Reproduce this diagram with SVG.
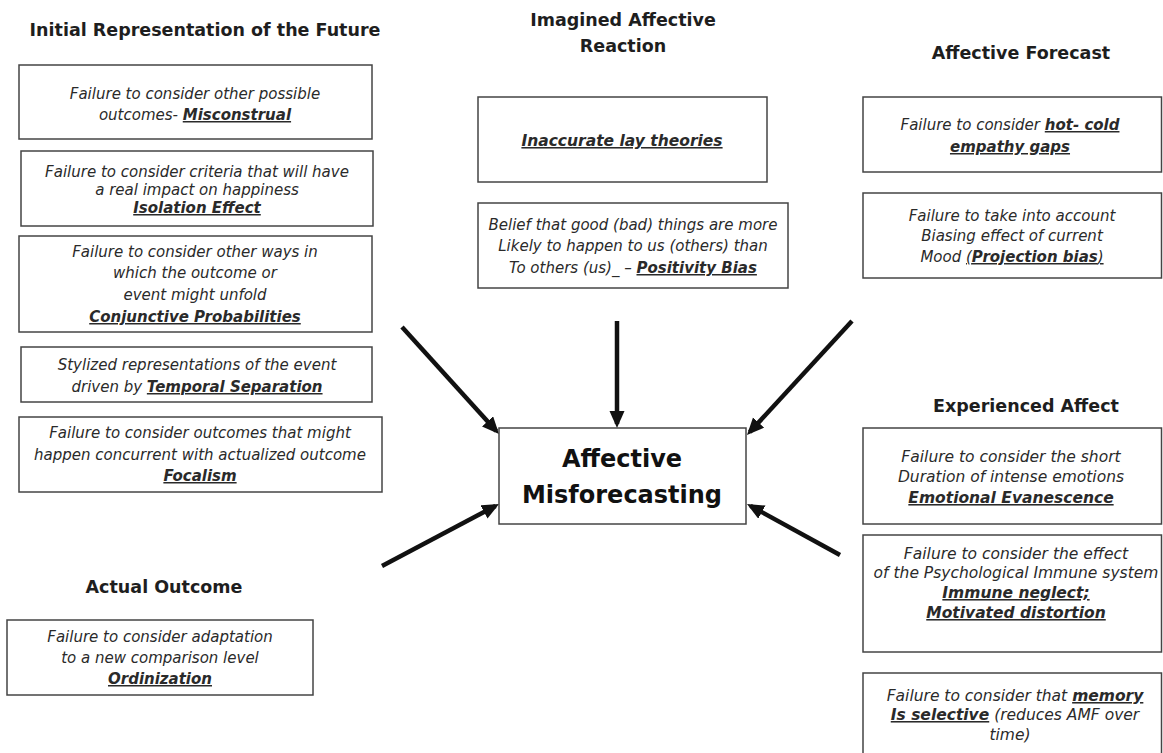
<svg xmlns="http://www.w3.org/2000/svg" width="1163" height="753" viewBox="0 0 1163 753">
<style>
  .bg { fill: #ffffff; }
  .box { fill: #ffffff; stroke: #444444; stroke-width: 1.5; }
  .title { font-family: "DejaVu Sans", "Liberation Sans", sans-serif; font-weight: bold; font-size: 17.5px; fill: #1e1e1e; text-anchor: middle; }
  .center { font-family: "DejaVu Sans", "Liberation Sans", sans-serif; font-weight: bold; font-size: 24px; fill: #111111; text-anchor: middle; }
  .t { font-family: "DejaVu Sans", "Liberation Sans", sans-serif; font-style: italic; font-size: 15px; fill: #2a2a2a; text-anchor: middle; }
  .t2 { font-family: "DejaVu Sans", "Liberation Sans", sans-serif; font-style: italic; font-size: 15.5px; fill: #2a2a2a; text-anchor: middle; }
  .k { font-weight: bold; text-decoration: underline; }
  .b { font-weight: bold; }
  .u { text-decoration: underline; }
  .arrow { stroke: #111111; stroke-width: 4.5; fill: none; marker-end: url(#ah); }
</style>
<defs>
  <marker id="ah" markerUnits="userSpaceOnUse" markerWidth="18" markerHeight="16" refX="13" refY="7.5" orient="auto">
    <path d="M0,0 L17,7.5 L0,15 z" fill="#111111"/>
  </marker>
</defs>
<rect class="bg" x="0" y="0" width="1163" height="753"/>

<g id="connectors">
  <line class="arrow" x1="402" y1="327" x2="496.3" y2="431"/>
  <line class="arrow" x1="617" y1="321" x2="617" y2="424"/>
  <line class="arrow" x1="852" y1="321" x2="749.7" y2="432.1"/>
  <line class="arrow" x1="382" y1="566" x2="495.5" y2="505.9"/>
  <line class="arrow" x1="840" y1="555" x2="750.5" y2="505.9"/>
</g>

<g id="title-initial">
  <text class="title" x="205" y="36">Initial Representation of the Future</text>
</g>
<g id="title-imagined">
  <text class="title" x="623" y="26">Imagined Affective</text>
  <text class="title" x="623" y="52">Reaction</text>
</g>
<g id="title-forecast">
  <text class="title" x="1021" y="59">Affective Forecast</text>
</g>
<g id="title-experienced">
  <text class="title" x="1026" y="412">Experienced Affect</text>
</g>
<g id="title-actual">
  <text class="title" x="164" y="593">Actual Outcome</text>
</g>

<g id="center">
  <rect class="box" x="499" y="428" width="247" height="96"/>
  <text class="center" x="622" y="467">Affective</text>
  <text class="center" x="622" y="503">Misforecasting</text>
</g>

<g id="misconstrual">
  <rect class="box" x="19" y="65" width="353" height="74"/>
  <text class="t" x="195" y="99">Failure to consider other possible</text>
  <text class="t" x="195" y="120">outcomes- <tspan class="k">Misconstrual</tspan></text>
</g>
<g id="isolation">
  <rect class="box" x="21" y="151" width="352" height="75"/>
  <text class="t" x="197" y="177">Failure to consider criteria that will have</text>
  <text class="t" x="197" y="195">a real impact on happiness</text>
  <text class="t" x="197" y="213"><tspan class="k">Isolation Effect</tspan></text>
</g>
<g id="conjunctive">
  <rect class="box" x="19" y="236" width="353" height="96"/>
  <text class="t" x="195" y="257">Failure to consider other ways in</text>
  <text class="t" x="195" y="278">which the outcome or</text>
  <text class="t" x="195" y="300">event might unfold</text>
  <text class="t" x="195" y="322"><tspan class="k">Conjunctive Probabilities</tspan></text>
</g>
<g id="temporal">
  <rect class="box" x="21" y="347" width="351" height="55"/>
  <text class="t" x="197" y="370">Stylized representations of the event</text>
  <text class="t" x="197" y="392">driven by <tspan class="k">Temporal Separation</tspan></text>
</g>
<g id="focalism">
  <rect class="box" x="19" y="417" width="363" height="75"/>
  <text class="t" x="200" y="438">Failure to consider outcomes that might</text>
  <text class="t" x="200" y="460">happen concurrent with actualized outcome</text>
  <text class="t" x="200" y="481"><tspan class="k">Focalism</tspan></text>
</g>
<g id="ordinization">
  <rect class="box" x="7" y="620" width="306" height="75"/>
  <text class="t" x="160" y="642">Failure to consider adaptation</text>
  <text class="t" x="160" y="663">to a new comparison level</text>
  <text class="t" x="160" y="684"><tspan class="k">Ordinization</tspan></text>
</g>

<g id="lay-theories">
  <rect class="box" x="478" y="97" width="289" height="85"/>
  <text class="t" x="622" y="146" style="font-size:15.5px"><tspan class="k">Inaccurate lay theories</tspan></text>
</g>
<g id="positivity">
  <rect class="box" x="478" y="203" width="310" height="85"/>
  <text class="t" x="633" y="230">Belief that good (bad) things are more</text>
  <text class="t" x="633" y="251">Likely to happen to us (others) than</text>
  <text class="t" x="633" y="273">To others (us)_ – <tspan class="k">Positivity Bias</tspan></text>
</g>

<g id="empathy">
  <rect class="box" x="863" y="97" width="298.5" height="75"/>
  <text class="t" x="1010" y="130">Failure to consider <tspan class="k">hot- cold</tspan></text>
  <text class="t" x="1010" y="152"><tspan class="k">empathy gaps</tspan></text>
</g>
<g id="projection">
  <rect class="box" x="863" y="193" width="298.5" height="85"/>
  <text class="t" x="1012" y="221">Failure to take into account</text>
  <text class="t" x="1012" y="241">Biasing effect of current</text>
  <text class="t" x="1012" y="262">Mood <tspan class="u">(<tspan class="b">Projection bias</tspan>)</tspan></text>
</g>

<g id="evanescence">
  <rect class="box" x="863" y="428" width="298.5" height="96"/>
  <text class="t2" x="1011" y="462">Failure to consider the short</text>
  <text class="t2" x="1011" y="482">Duration of intense emotions</text>
  <text class="t2" x="1011" y="503"><tspan class="k">Emotional Evanescence</tspan></text>
</g>
<g id="immune">
  <rect class="box" x="863" y="535" width="298.5" height="117"/>
  <text class="t2" x="1016" y="559">Failure to consider  the  effect</text>
  <text class="t2" x="1016" y="578">of the Psychological Immune system</text>
  <text class="t2" x="1016" y="598"><tspan class="k">Immune neglect;</tspan></text>
  <text class="t2" x="1016" y="618"><tspan class="k">Motivated distortion</tspan></text>
</g>
<g id="memory">
  <rect class="box" x="863" y="673" width="298.5" height="100"/>
  <text class="t2" x="1015" y="701">Failure to consider that <tspan class="k">memory</tspan></text>
  <text class="t2" x="1015" y="720"><tspan class="k">Is selective</tspan> (reduces AMF over</text>
  <text class="t2" x="1010" y="740">time)</text>
</g>
</svg>
